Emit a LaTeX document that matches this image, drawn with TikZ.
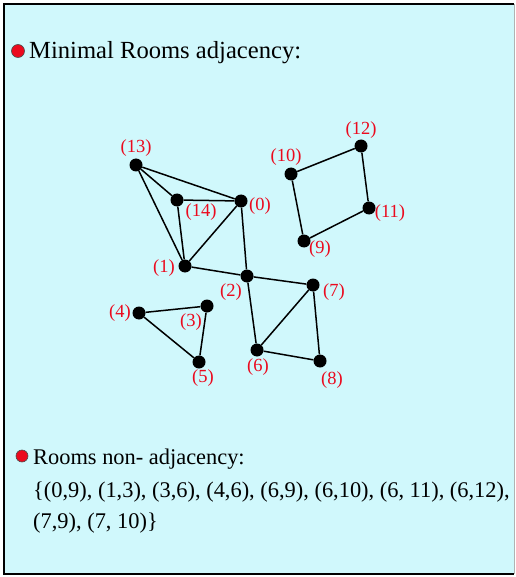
\documentclass[tikz,border=0pt]{standalone}
\usepackage{fontspec}
\setmainfont{Liberation Serif}
\usepackage{xcolor}
\definecolor{panel}{RGB}{208,248,252}
\definecolor{lblred}{RGB}{235,10,30}
\usetikzlibrary{positioning}

\begin{document}
\begin{tikzpicture}[
  x=1pt,y=-1pt,
  room/.style={circle,fill=black,minimum size=13pt,inner sep=0pt},
  edge/.style={line width=1.5pt},
  lab/.style={font=\fontsize{18.5}{18.5}\selectfont,text=lblred,inner sep=0pt},
  dot/.style={circle,draw=black!70,fill=lblred,line width=0.6pt,minimum size=13pt,inner sep=0pt},
  head/.style={anchor=base west,inner sep=0pt}
]
  \useasboundingbox (0,0) rectangle (515,577);
  \fill[panel] (4,4) rectangle (514,574);
  \draw[line width=2pt] (514,4) -- (4,4) -- (4,574) -- (514,574);
  \draw[gray!60,line width=1pt] (514,4) -- (514,574);

  % rooms
  \node[room] (r0)  at (241,201) {};
  \node[room] (r1)  at (185,266) {};
  \node[room] (r2)  at (247,276) {};
  \node[room] (r3)  at (207,306) {};
  \node[room] (r4)  at (139,313) {};
  \node[room] (r5)  at (199,362) {};
  \node[room] (r6)  at (257,350) {};
  \node[room] (r7)  at (313,285) {};
  \node[room] (r8)  at (320,361) {};
  \node[room] (r9)  at (304,241) {};
  \node[room] (r10) at (291,174) {};
  \node[room] (r11) at (369,208) {};
  \node[room] (r12) at (361,146) {};
  \node[room] (r13) at (136,165) {};
  \node[room] (r14) at (177,200) {};

  \draw[edge] (r13) -- (r14);
  \draw[edge] (r13) -- (r0);
  \draw[edge] (r13) -- (r1);
  \draw[edge] (r14) -- (r0);
  \draw[edge] (r14) -- (r1);
  \draw[edge] (r0) -- (r1);
  \draw[edge] (r0) -- (r2);
  \draw[edge] (r1) -- (r2);
  \draw[edge] (r2) -- (r7);
  \draw[edge] (r2) -- (r6);
  \draw[edge] (r6) -- (r7);
  \draw[edge] (r7) -- (r8);
  \draw[edge] (r6) -- (r8);
  \draw[edge] (r4) -- (r3);
  \draw[edge] (r3) -- (r5);
  \draw[edge] (r4) -- (r5);
  \draw[edge] (r10) -- (r12);
  \draw[edge] (r12) -- (r11);
  \draw[edge] (r11) -- (r9);
  \draw[edge] (r9) -- (r10);

  \node[lab] (l0)  at (260,206) {(0)};
  \node[lab] (l1)  at (164,268) {(1)};
  \node[lab] (l2)  at (231,292) {(2)};
  \node[lab] (l3)  at (191,322) {(3)};
  \node[lab] (l4)  at (120,313) {(4)};
  \node[lab] (l5)  at (203,378) {(5)};
  \node[lab] (l6)  at (258,367) {(6)};
  \node[lab] (l7)  at (334,292) {(7)};
  \node[lab] (l8)  at (332,380) {(8)};
  \node[lab] (l9)  at (320,249) {(9)};
  \node[lab] (l10) at (286,157) {(10)};
  \node[lab] (l11) at (390,213) {(11)};
  \node[lab] (l12) at (361,130) {(12)};
  \node[lab] (l13) at (136,148) {(13)};
  \node[lab] (l14) at (201,212) {(14)};

  \node[dot] (b1) at (18,51) {};
  \node[head,font=\fontsize{24.6}{24.6}\selectfont] (t1) at (29,59) {Minimal Rooms adjacency:};

  \node[dot,minimum size=12pt] (b2) at (22,456) {};
  \node[head,font=\fontsize{22.4}{22.4}\selectfont] (t2) at (33,464) {Rooms non- adjacency:};
  \node[head,font=\fontsize{22.4}{22.4}\selectfont] (t3) at (33,497)
    {\{(0,9), (1,3), (3,6), (4,6), (6,9), (6,10), (6, 11), (6,12),};
  \node[head,font=\fontsize{22.4}{22.4}\selectfont] (t4) at (33,528)
    {(7,9), (7, 10)\}};
\end{tikzpicture}
\end{document}
